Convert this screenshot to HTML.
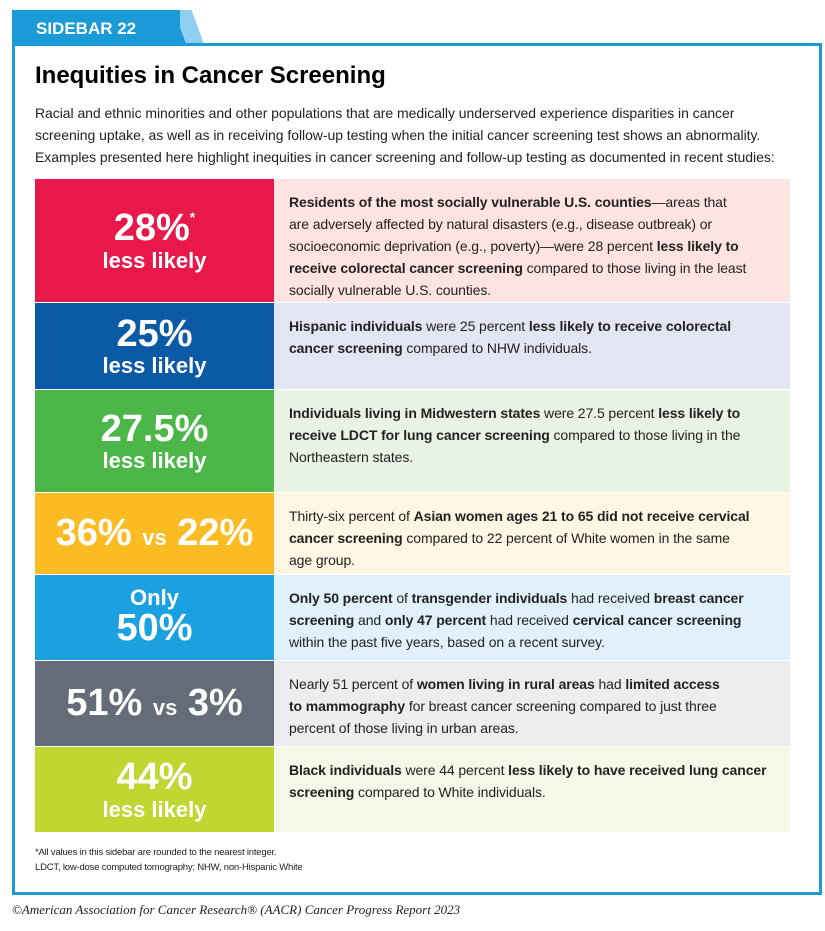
<!DOCTYPE html>
<html><head><meta charset="utf-8"><style>
*{margin:0;padding:0;box-sizing:border-box}
body{width:825px;height:931px;background:#fff;font-family:"Liberation Sans",sans-serif;position:relative;overflow:hidden;color:#1a1a1a}
.tab{position:absolute;left:12px;top:10px;width:168px;height:34px;background:#1a9ad6;color:#fff;font-weight:bold;font-size:17px;padding:9px 0 0 24px}
.tab2{position:absolute;left:186px;top:10px;width:18px;height:34px;background:#8fd0f0;transform:skewX(20deg);transform-origin:bottom}
.tab3{position:absolute;left:170px;top:10px;width:18px;height:34px;background:#1a9ad6;transform:skewX(20deg);transform-origin:bottom}
.box{position:absolute;left:12px;top:43px;width:810px;height:852px;border:3px solid #1a9ad6}
h1{position:absolute;left:35px;top:62px;font-size:24px;font-weight:bold;color:#000}
.intro{position:absolute;left:35px;top:102px;font-size:14px;line-height:22px;color:#222;letter-spacing:-0.05px;white-space:nowrap}
.row{position:absolute;left:35px;width:755px;display:flex;border-bottom:1px solid #fff}
.l{width:239px;color:#fff;font-weight:bold;display:flex;flex-direction:column;justify-content:center;align-items:center;text-align:center;line-height:1.05}
.big{font-size:38px}
.sm{font-size:22px}
.r{flex:1;padding:12px 10px 0 15px;font-size:14px;line-height:22px;color:#222;white-space:nowrap;letter-spacing:-0.1px}
.foot{position:absolute;left:35px;font-size:9.5px;color:#222;letter-spacing:-0.2px}
.copy{position:absolute;left:12px;top:902px;font-family:"Liberation Serif",serif;font-style:italic;font-size:13px;color:#222}
</style></head><body>
<div class="tab3"></div><div class="tab2"></div>
<div class="tab">SIDEBAR 22</div>
<div class="box"></div>
<h1>Inequities in Cancer Screening</h1>
<div class="intro">Racial and ethnic minorities and other populations that are medically underserved experience disparities in cancer<br>screening uptake, as well as in receiving follow-up testing when the initial cancer screening test shows an abnormality.<br>Examples presented here highlight inequities in cancer screening and follow-up testing as documented in recent studies:</div>

<div class="row" style="top:179px;height:124px"><div class="l" style="background:#e8194a"><div class="big">28%<sup style="font-size:14px;vertical-align:18px">*</sup></div><div class="sm">less likely</div></div><div class="r" style="background:#fde4e1"><b>Residents of the most socially vulnerable U.S. counties</b>—areas that<br>are adversely affected by natural disasters (e.g., disease outbreak) or<br>socioeconomic deprivation (e.g., poverty)—were 28 percent <b>less likely to<br>receive colorectal cancer screening</b> compared to those living in the least<br>socially vulnerable U.S. counties.</div></div>

<div class="row" style="top:303px;height:87px"><div class="l" style="background:#0b5aa5"><div class="big">25%</div><div class="sm">less likely</div></div><div class="r" style="background:#e3e5f3"><b>Hispanic individuals</b> were 25 percent <b>less likely to receive colorectal<br>cancer screening</b> compared to NHW individuals.</div></div>

<div class="row" style="top:390px;height:103px"><div class="l" style="background:#4cb748"><div class="big">27.5%</div><div class="sm">less likely</div></div><div class="r" style="background:#e8f3e4"><b>Individuals living in Midwestern states</b> were 27.5 percent <b>less likely to<br>receive LDCT for lung cancer screening</b> compared to those living in the<br>Northeastern states.</div></div>

<div class="row" style="top:493px;height:82px"><div class="l" style="background:#fbbb22"><div class="big">36% <span style="font-size:22px">vs</span> 22%</div></div><div class="r" style="background:#fff6e3">Thirty-six percent of <b>Asian women ages 21 to 65 did not receive cervical<br>cancer screening</b> compared to 22 percent of White women in the same<br>age group.</div></div>

<div class="row" style="top:575px;height:86px"><div class="l" style="background:#1ba1e0"><div class="sm">Only</div><div class="big">50%</div></div><div class="r" style="background:#e1f1fb"><b>Only 50 percent</b> of <b>transgender individuals</b> had received <b>breast cancer<br>screening</b> and <b>only 47 percent</b> had received <b>cervical cancer screening</b><br>within the past five years, based on a recent survey.</div></div>

<div class="row" style="top:661px;height:86px"><div class="l" style="background:#636c77"><div class="big">51% <span style="font-size:22px">vs</span> 3%</div></div><div class="r" style="background:#ecedef">Nearly 51 percent of <b>women living in rural areas</b> had <b>limited access<br>to mammography</b> for breast cancer screening compared to just three<br>percent of those living in urban areas.</div></div>

<div class="row" style="top:747px;height:86px"><div class="l" style="background:#bfd730"><div class="big">44%</div><div class="sm">less likely</div></div><div class="r" style="background:#f4f8e8"><b>Black individuals</b> were 44 percent <b>less likely to have received lung cancer<br>screening</b> compared to White individuals.</div></div>

<div class="foot" style="top:847px">*All values in this sidebar are rounded to the nearest integer.</div>
<div class="foot" style="top:862px">LDCT, low-dose computed tomography; NHW, non-Hispanic White</div>
<div class="copy">©American Association for Cancer Research® (AACR) Cancer Progress Report 2023</div>
</body></html>
